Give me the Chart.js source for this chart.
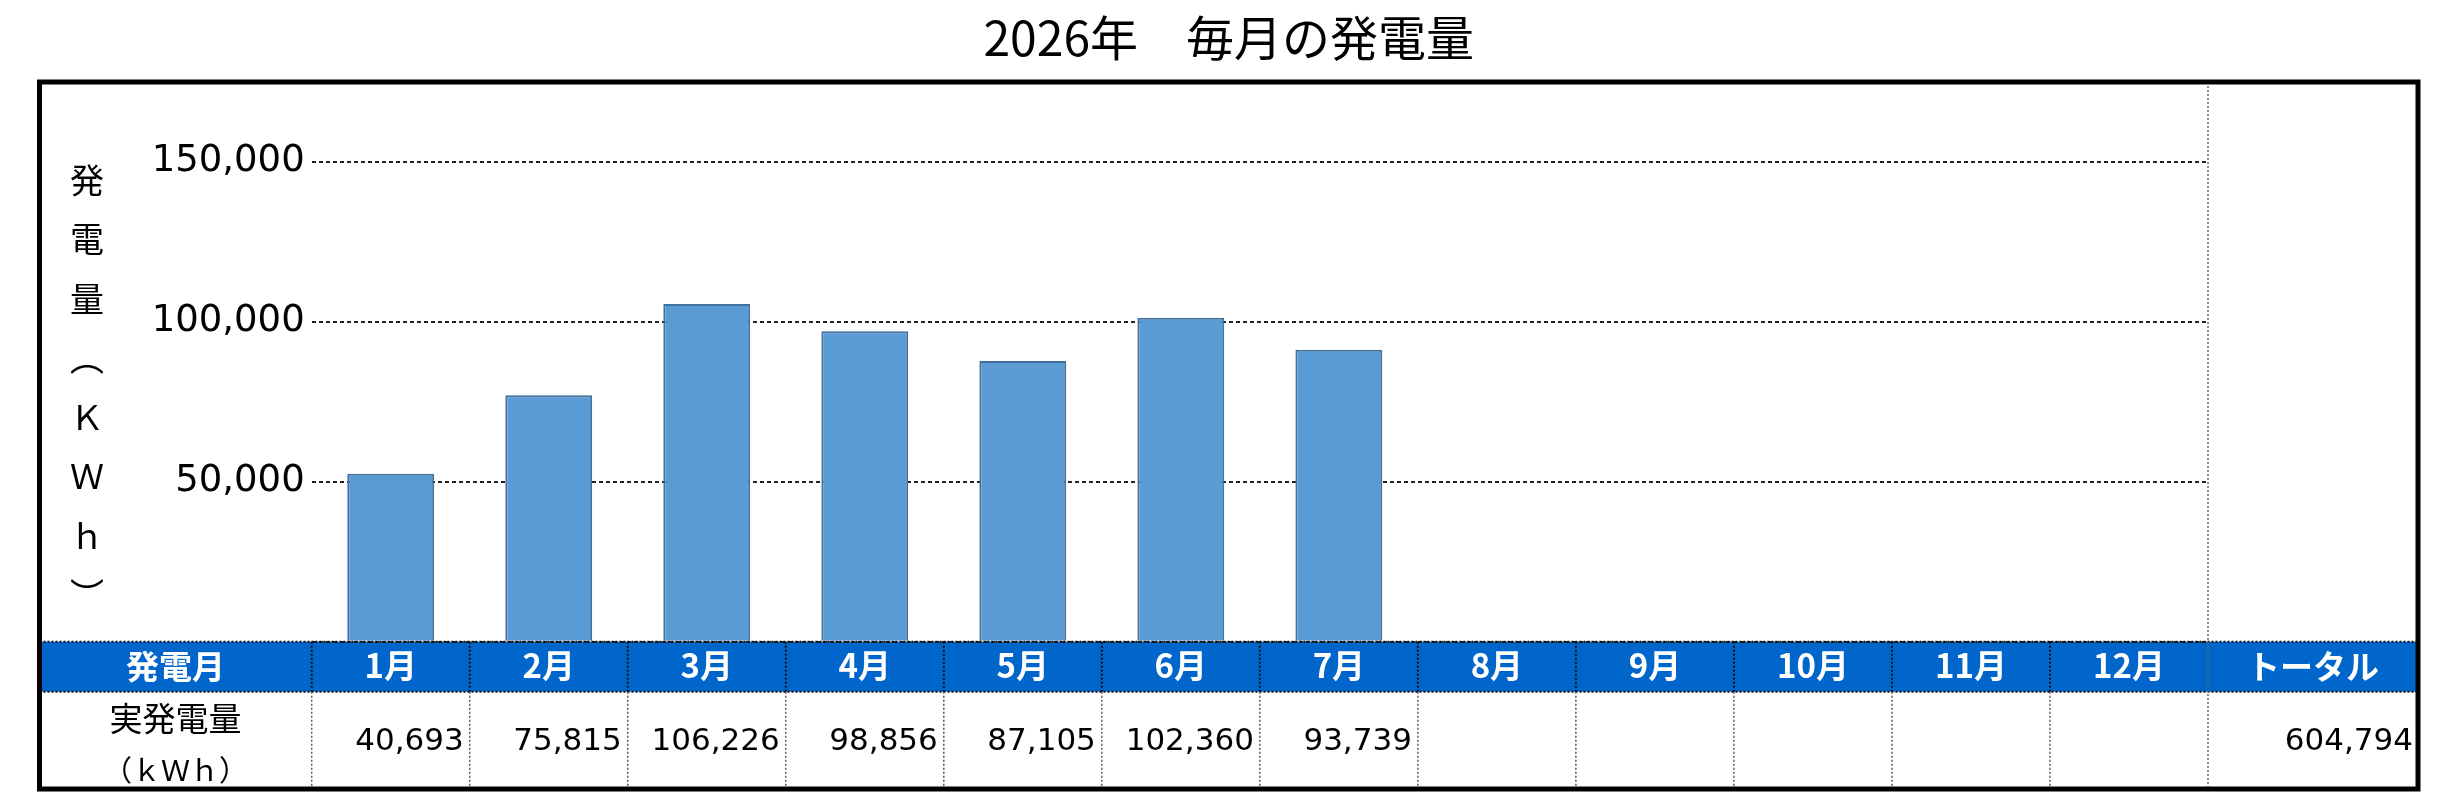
<!DOCTYPE html>
<html lang="ja">
<head>
<meta charset="utf-8"/>
<title>2026年 毎月の発電量</title>
<script src="https://cdn.jsdelivr.net/npm/chart.js"></script>
<style>
html, body { margin: 0; padding: 0; background: #fff; }
canvas { display: block; background: #fff; }
</style>
</head>
<body>
<canvas id="chart" width="2450" height="800" style="width:2450px;height:800px"></canvas>
<script>
"use strict";
const TITLE = "2026年　毎月の発電量";
const Y_TITLE = ["発", "電", "量", "︵", "Ｋ", "Ｗ", "ｈ", "︶"];
const MONTHS = ["1月", "2月", "3月", "4月", "5月", "6月", "7月", "8月", "9月", "10月", "11月", "12月"];
// bar heights
const BAR_VALUES = [52500, 77000, 105500, 97000, 87700, 101200, 91200, null, null, null, null, null];
// figures printed in the table row
const TABLE_VALUES = ["40,693", "75,815", "106,226", "98,856", "87,105", "102,360", "93,739", "", "", "", "", ""];
const Y_TICKS = [0, 50000, 100000, 150000];
const ROW_HEAD = "発電月";
const ROW_LABEL = ["実発電量", "（ｋＷｈ）"];
const TOTAL_LABEL = "トータル";
const TOTAL_VALUE = "604,794";

const JP = '"Noto Sans CJK JP", sans-serif';
const NUM = '"DejaVu Sans", "Noto Sans CJK JP", sans-serif';
const FRAME = {left: 39.5, top: 82, right: 2418, bottom: 789};
const HEADER_H = 50;

const tablePlugin = {
  id: "tablePlugin",
  beforeDraw(chart){
    const ctx = chart.ctx;
    const ca = chart.chartArea;
    ctx.save();
    ctx.fillStyle = "#0066cc";
    ctx.fillRect(FRAME.left, ca.bottom, FRAME.right - FRAME.left, HEADER_H);
    ctx.restore();
  },
  afterDraw(chart){
    const ctx = chart.ctx;
    const ca = chart.chartArea;
    const xs = chart.scales.x;
    const colW = (ca.right - ca.left) / MONTHS.length;
    const hTop = ca.bottom;
    const hBot = ca.bottom + HEADER_H;
    ctx.save();

    // title
    ctx.fillStyle = "#000";
    ctx.font = "48px " + JP;
    ctx.textAlign = "center";
    ctx.textBaseline = "middle";
    ctx.fillText(TITLE, (FRAME.left + FRAME.right) / 2, 38);

    // stacked y axis title
    ctx.font = "34px " + JP;
    Y_TITLE.forEach((c, i) => ctx.fillText(c, 87, 180 + i * 59.3));

    // header lines
    ctx.strokeStyle = "#111";
    ctx.lineWidth = 2;
    ctx.setLineDash([2, 2]);
    ctx.beginPath();
    ctx.moveTo(FRAME.left, hTop); ctx.lineTo(FRAME.right, hTop);
    ctx.moveTo(FRAME.left, hBot); ctx.lineTo(FRAME.right, hBot);
    for(let i = 0; i < MONTHS.length; i++){
      const x = xs.getPixelForTick(i) - colW / 2;
      ctx.moveTo(x, hTop); ctx.lineTo(x, hBot);
    }
    ctx.stroke();

    // body column lines
    ctx.strokeStyle = "#555";
    ctx.lineWidth = 1.5;
    ctx.beginPath();
    for(let i = 0; i < MONTHS.length; i++){
      const x = xs.getPixelForTick(i) - colW / 2;
      ctx.moveTo(x, hBot); ctx.lineTo(x, FRAME.bottom);
    }
    ctx.stroke();

    // separator before total column, full height
    ctx.strokeStyle = "#666";
    ctx.beginPath();
    ctx.moveTo(ca.right, FRAME.top); ctx.lineTo(ca.right, FRAME.bottom);
    ctx.stroke();
    ctx.setLineDash([]);

    // header texts
    ctx.fillStyle = "#fff";
    ctx.font = "bold 33px " + JP;
    ctx.fillText(ROW_HEAD, (FRAME.left + ca.left) / 2, hTop + HEADER_H / 2);
    ctx.fillText(TOTAL_LABEL, (ca.right + FRAME.right) / 2, hTop + HEADER_H / 2);

    // row label
    ctx.fillStyle = "#000";
    ctx.font = "33px " + JP;
    ctx.fillText(ROW_LABEL[0], (FRAME.left + ca.left) / 2, 718);
    ctx.font = "29px " + JP;
    ctx.fillText(ROW_LABEL[1], (FRAME.left + ca.left) / 2, 770);

    // values
    ctx.font = "31px " + NUM;
    ctx.textAlign = "right";
    TABLE_VALUES.forEach((v, i) => {
      if(v){
        ctx.fillText(v, xs.getPixelForTick(i) + colW / 2 - 6, 742);
      }
    });
    ctx.fillText(TOTAL_VALUE, FRAME.right - 5, 742);

    // outer frame
    ctx.strokeStyle = "#000";
    ctx.lineWidth = 5;
    ctx.strokeRect(FRAME.left, FRAME.top, FRAME.right - FRAME.left, FRAME.bottom - FRAME.top);
    ctx.restore();
  }
};

new Chart(document.getElementById("chart"), {
  type: "bar",
  data: {
    labels: MONTHS,
    datasets: [{
      data: BAR_VALUES,
      backgroundColor: "#5b9bd5",
      borderColor: "#41719c",
      borderWidth: 2,
      barPercentage: 0.55,
      categoryPercentage: 1
    }]
  },
  options: {
    responsive: false,
    animation: false,
    devicePixelRatio: 1,
    layout: {padding: {left: 111.7, right: 242, top: 161.7, bottom: 108.3}},
    plugins: {
      legend: {display: false},
      tooltip: {enabled: false},
      title: {display: false}
    },
    scales: {
      x: {
        offset: true,
        grid: {display: false, drawTicks: false},
        border: {display: false},
        ticks: {
          color: "#fff",
          font: {family: JP, size: 33, weight: "bold"},
          padding: 4,
          maxRotation: 0,
          autoSkip: false
        },
        afterFit: (axis) => { axis.height = HEADER_H; }
      },
      y: {
        min: 0,
        max: 150000,
        afterBuildTicks: (axis) => { axis.ticks = Y_TICKS.map(v => ({value: v})); },
        afterFit: (axis) => { axis.width = 200; },
        grid: {color: "#222", lineWidth: 2, drawTicks: false},
        border: {display: false, dash: [4, 3]},
        ticks: {
          color: "#000",
          font: {family: NUM, size: 37},
          padding: 7,
          callback: (v) => v === 0 ? "" : v.toLocaleString("en-US")
        }
      }
    }
  },
  plugins: [tablePlugin]
});
</script>
</body>
</html>
